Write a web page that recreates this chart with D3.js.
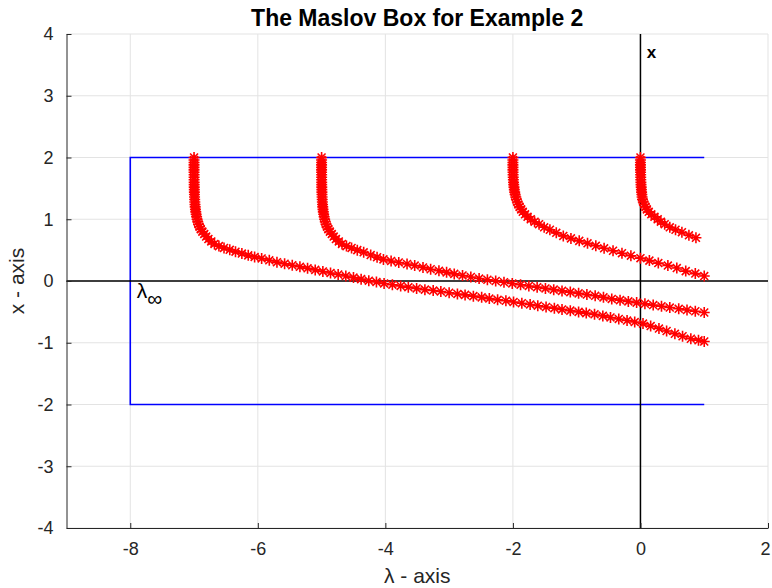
<!DOCTYPE html>
<html><head><meta charset="utf-8">
<script src="https://cdn.jsdelivr.net/npm/d3@7"></script>
<style>body{margin:0;background:#fff}svg{display:block}</style>
</head><body><svg id="c" width="772" height="588"></svg>
<script>
// ---- data ----
const xTicks = [-8, -6, -4, -2, 0, 2];
const yTicks = [-4, -3, -2, -1, 0, 1, 2, 3, 4];
const titleText = "The Maslov Box for Example 2";
const xLabel = "\u03bb - axis";
const yLabel = "x - axis";
// Maslov box: lambda_inf, lambda_max, x range
const boxLambda = [-8, 1];
const boxX = [-2, 2];
// eigenvalue curves [lambda, x]
const curveM7 = [[-7.000,2.00],[-7.000,1.96],[-7.000,1.92],[-7.000,1.88],[-7.000,1.84],[-7.000,1.80],[-7.000,1.76],[-6.999,1.72],[-6.999,1.68],[-6.999,1.64],[-6.998,1.60],[-6.998,1.56],[-6.997,1.52],[-6.996,1.48],[-6.995,1.44],[-6.994,1.40],[-6.992,1.36],[-6.990,1.32],[-6.988,1.28],[-6.985,1.24],[-6.982,1.20],[-6.978,1.16],[-6.973,1.12],[-6.967,1.08],[-6.960,1.04],[-6.952,1.00],[-6.942,0.96],[-6.930,0.92],[-6.915,0.88],[-6.895,0.84],[-6.870,0.80],[-6.840,0.76],[-6.810,0.72],[-6.775,0.68],[-6.730,0.64],
[-6.68,0.60],[-6.61,0.565],[-6.53,0.535],[-6.44,0.505],[-6.35,0.475],[-6.25,0.445],[-6.15,0.415],[-6.05,0.39],[-5.94,0.365],[-5.82,0.335],[-5.70,0.305],[-5.58,0.28],[-5.46,0.255],[-5.34,0.23],[-5.22,0.205],[-5.10,0.18],[-4.98,0.155],[-4.86,0.13],[-4.74,0.105],[-4.62,0.08],[-4.50,0.055],[-4.38,0.03],[-4.26,0.005],[-4.14,-0.015],[-4.02,-0.04],[-3.89,-0.06],[-3.76,-0.08],[-3.64,-0.10],[-3.51,-0.12],[-3.38,-0.14],[-3.25,-0.155],[-3.13,-0.17],[-3.00,-0.19],[-2.87,-0.21],[-2.75,-0.225],[-2.62,-0.245],[-2.49,-0.265],[-2.37,-0.285],[-2.24,-0.305],[-2.11,-0.32],[-1.99,-0.34],[-1.86,-0.36],[-1.73,-0.38],[-1.61,-0.40],[-1.48,-0.42],[-1.35,-0.44],[-1.23,-0.46],[-1.10,-0.48],[-0.97,-0.50],[-0.85,-0.52],[-0.72,-0.54],[-0.59,-0.565],[-0.47,-0.59],[-0.34,-0.615],[-0.21,-0.64],[-0.09,-0.665],[0.04,-0.69],[0.16,-0.73],[0.29,-0.77],[0.41,-0.81],[0.54,-0.855],[0.66,-0.895],[0.79,-0.935],[0.91,-0.96],[1.00,-0.98]];
const curveM5 = [[-5.000,2.00],[-5.000,1.96],[-5.000,1.92],[-5.000,1.88],[-5.000,1.84],[-5.000,1.80],[-5.000,1.76],[-4.999,1.72],[-4.999,1.68],[-4.999,1.64],[-4.998,1.60],[-4.998,1.56],[-4.997,1.52],[-4.996,1.48],[-4.995,1.44],[-4.994,1.40],[-4.992,1.36],[-4.990,1.32],[-4.988,1.28],[-4.985,1.24],[-4.982,1.20],[-4.978,1.16],[-4.973,1.12],[-4.967,1.08],[-4.960,1.04],[-4.952,1.00],[-4.942,0.96],[-4.930,0.92],[-4.915,0.88],[-4.895,0.84],[-4.870,0.80],[-4.840,0.76],[-4.810,0.72],[-4.775,0.68],[-4.730,0.64],
[-4.68,0.60],[-4.61,0.565],[-4.53,0.535],[-4.44,0.50],[-4.34,0.465],[-4.23,0.42],[-4.13,0.385],[-4.03,0.35],[-3.91,0.325],[-3.79,0.30],[-3.66,0.275],[-3.54,0.25],[-3.41,0.22],[-3.29,0.19],[-3.16,0.165],[-3.04,0.14],[-2.92,0.115],[-2.79,0.09],[-2.66,0.065],[-2.53,0.04],[-2.40,0.02],[-2.27,0.00],[-2.14,-0.02],[-2.01,-0.04],[-1.88,-0.06],[-1.75,-0.08],[-1.62,-0.10],[-1.49,-0.12],[-1.36,-0.14],[-1.23,-0.16],[-1.10,-0.18],[-0.97,-0.20],[-0.84,-0.22],[-0.71,-0.24],[-0.58,-0.265],[-0.45,-0.29],[-0.32,-0.31],[-0.19,-0.33],[-0.06,-0.35],[0.07,-0.37],[0.20,-0.39],[0.33,-0.41],[0.46,-0.43],[0.60,-0.45],[0.73,-0.47],[0.86,-0.49],[1.00,-0.51]];
const curveM2 = [[-2.000,2.00],[-2.000,1.96],[-2.000,1.92],[-2.000,1.88],[-1.999,1.84],[-1.999,1.80],[-1.998,1.76],[-1.997,1.72],[-1.995,1.68],[-1.993,1.64],[-1.990,1.60],[-1.987,1.56],[-1.983,1.52],[-1.978,1.48],[-1.972,1.44],[-1.965,1.40],[-1.955,1.36],[-1.945,1.32],[-1.930,1.28],[-1.915,1.24],[-1.895,1.20],[-1.870,1.16],[-1.845,1.12],[-1.810,1.08],[-1.770,1.04],[-1.720,1.00],[-1.660,0.96],[-1.590,0.92],[-1.510,0.87],[-1.420,0.83],[-1.320,0.78],[-1.210,0.73],[-1.090,0.69],[-0.960,0.65],[-0.830,0.61],[-0.700,0.57],[-0.570,0.53],[-0.430,0.49],[-0.290,0.45],[-0.150,0.41],[0.000,0.37],[0.140,0.33],[0.280,0.29],[0.430,0.25],[0.570,0.21],[0.710,0.16],[0.860,0.12],[1.000,0.08]];
const curveZ0 = [[0.000,2.00],[0.000,1.96],[0.000,1.92],[0.000,1.88],[0.001,1.84],[0.001,1.80],[0.002,1.76],[0.003,1.72],[0.004,1.68],[0.005,1.64],[0.007,1.60],[0.009,1.56],[0.012,1.52],[0.015,1.48],[0.018,1.44],[0.022,1.40],[0.026,1.36],[0.032,1.32],[0.045,1.28],[0.060,1.24],[0.080,1.20],[0.100,1.16],[0.130,1.12],[0.170,1.08],[0.220,1.04],[0.270,1.00],[0.320,0.96],[0.380,0.92],[0.460,0.87],[0.550,0.83],[0.650,0.79],[0.760,0.74],[0.870,0.70]];
const curves = [curveM7, curveM5, curveM2, curveZ0];

// ---- layout ----
const W = 772, H = 588;
const m = {l: 66.5, r: 4, t: 34, b: 60};
const svg = d3.select("#c");
const x = d3.scaleLinear().domain([-9, 2]).range([m.l, W - m.r]);
const y = d3.scaleLinear().domain([-4, 4]).range([H - m.b, m.t]);
const font = "'Liberation Sans', Arial, Helvetica, sans-serif";
const axCol = "#262626";

// grid
const g = svg.append("g");
g.selectAll(".gx").data(xTicks).join("line")
  .attr("x1", d => x(d)).attr("x2", d => x(d)).attr("y1", y(-4)).attr("y2", y(4))
  .attr("stroke", "#e3e3e3").attr("stroke-width", 1);
g.selectAll(".gy").data(yTicks).join("line")
  .attr("x1", x(-9)).attr("x2", x(2)).attr("y1", d => y(d)).attr("y2", d => y(d))
  .attr("stroke", "#e3e3e3").attr("stroke-width", 1);

// box
const bl = d3.line().x(d => x(d[0])).y(d => y(d[1]));
svg.append("path")
  .attr("d", bl([[boxLambda[1], boxX[1]], [boxLambda[0], boxX[1]], [boxLambda[0], boxX[0]], [boxLambda[1], boxX[0]]]))
  .attr("fill", "none").attr("stroke", "#0000ff").attr("stroke-width", 1.6);

// coordinate lines
svg.append("line").attr("x1", x(-9)).attr("x2", x(2)).attr("y1", y(0)).attr("y2", y(0))
  .attr("stroke", "#000").attr("stroke-width", 1.3);
svg.append("line").attr("x1", x(0)).attr("x2", x(0)).attr("y1", y(-4)).attr("y2", y(4))
  .attr("stroke", "#000").attr("stroke-width", 1.5);

// curves
const r = 5.5, dd = r * 0.72;
const star = `M0,${-r}V${r}M${-r},0H${r}M${-dd},${-dd}L${dd},${dd}M${-dd},${dd}L${dd},${-dd}`;
curves.forEach(c => {
  svg.append("path").attr("d", bl(c)).attr("fill", "none").attr("stroke", "#ff0000").attr("stroke-width", 1);
  svg.append("g").selectAll("path").data(c).join("path")
    .attr("transform", d => `translate(${x(d[0])},${y(d[1])})`)
    .attr("d", star).attr("fill", "none").attr("stroke", "#ff0000").attr("stroke-width", 1.6);
});

// axes
const xa = svg.append("g").attr("transform", `translate(0,${y(-4)})`)
  .call(d3.axisBottom(x).tickValues(xTicks).tickSizeInner(-5).tickSizeOuter(0).tickPadding(14).tickFormat(d3.format("d")));
const ya = svg.append("g").attr("transform", `translate(${x(-9)},0)`)
  .call(d3.axisLeft(y).tickValues(yTicks).tickSizeInner(-5).tickSizeOuter(0).tickPadding(13).tickFormat(d3.format("d")));
[xa, ya].forEach(a => {
  a.select(".domain").attr("stroke", axCol).attr("stroke-width", 1);
  a.selectAll(".tick line").attr("stroke", axCol);
  a.selectAll("text").attr("fill", axCol).style("font-family", font).style("font-size", "18px");
});
xa.selectAll("text").text(d => d < 0 ? "-" + Math.abs(d) : d)
  .attr("dx", (d, i) => i === xTicks.length - 1 ? -3 : 0);
ya.selectAll("text").text(d => d < 0 ? "-" + Math.abs(d) : d);

// annotations
svg.append("text").attr("x", x(0.1)).attr("y", y(3.61)).text("x")
  .style("font-family", font).style("font-size", "17px").style("font-weight", "bold").attr("fill", "#000");
const li = svg.append("text").attr("x", x(-7.9)).attr("y", y(-0.28))
  .style("font-family", font).style("font-size", "21px").attr("fill", "#000");
li.append("tspan").text("\u03bb");
li.append("tspan").attr("dy", 8).style("font-size", "21px").text("\u221e");

// title and labels
svg.append("text").attr("x", (x(-9) + x(2)) / 2).attr("y", 26).attr("text-anchor", "middle")
  .style("font-family", font).style("font-size", "23px").style("font-weight", "bold").attr("fill", "#000").text(titleText);
svg.append("text").attr("x", (x(-9) + x(2)) / 2).attr("y", 583).attr("text-anchor", "middle")
  .style("font-family", font).style("font-size", "21px").attr("fill", axCol).text(xLabel);
svg.append("text").attr("transform", `translate(24,${(y(-4) + y(4)) / 2}) rotate(-90)`).attr("text-anchor", "middle")
  .style("font-family", font).style("font-size", "21px").attr("fill", axCol).text(yLabel);
</script></body></html>
